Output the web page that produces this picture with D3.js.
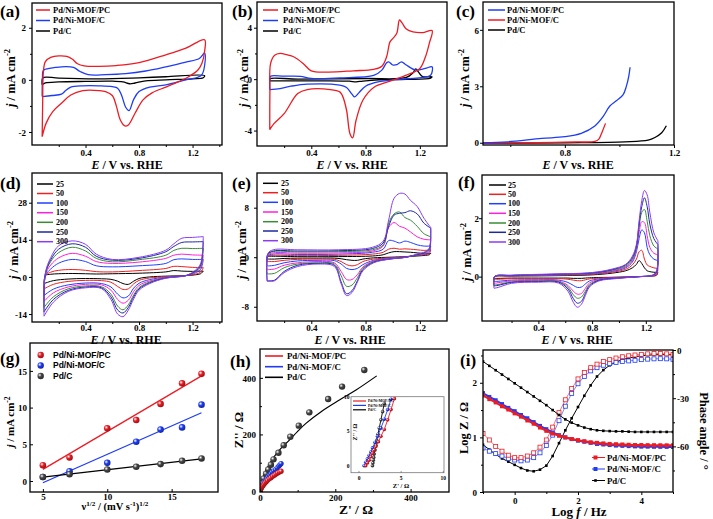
<!DOCTYPE html>
<html><head><meta charset="utf-8">
<script src="https://cdn.jsdelivr.net/npm/d3@7"></script>
<style>body{margin:0;background:#fff}svg{display:block}</style>
</head><body>
<script>
// ---------------- DATA ----------------
// (a) CV in N2 (E / V, j / mA cm-2)
const a_PC = [[0.076,-2.18],[0.08,-0.8],[0.085,0.3],[0.1,0.7],[0.14,0.86],[0.2,0.92],[0.26,0.9],[0.3,0.8],[0.34,0.62],[0.39,0.54],[0.5,0.52],[0.63,0.55],[0.8,0.66],[1.0,0.96],[1.15,1.22],[1.29,1.54],[1.29,1.1],[1.27,0.64],[1.24,0.38],[1.18,0.15],[1.1,-0.06],[1.0,-0.28],[0.9,-0.49],[0.83,-0.77],[0.77,-1.28],[0.72,-1.73],[0.695,-1.77],[0.66,-1.54],[0.63,-1.0],[0.6,-0.6],[0.55,-0.45],[0.5,-0.41],[0.38,-0.41],[0.29,-0.58],[0.22,-0.9],[0.155,-1.22],[0.105,-1.67],[0.076,-2.18]];
const a_C = [[0.076,-0.64],[0.078,0.0],[0.085,0.36],[0.12,0.43],[0.18,0.48],[0.25,0.51],[0.31,0.48],[0.36,0.32],[0.42,0.2],[0.55,0.2],[0.7,0.24],[0.85,0.34],[1.0,0.5],[1.15,0.68],[1.25,0.82],[1.29,1.03],[1.29,0.55],[1.27,0.2],[1.24,0.1],[1.15,0.0],[1.0,-0.19],[0.88,-0.28],[0.8,-0.45],[0.76,-0.75],[0.725,-1.18],[0.7,-1.05],[0.67,-0.6],[0.64,-0.32],[0.6,-0.26],[0.5,-0.23],[0.38,-0.23],[0.29,-0.28],[0.25,-0.42],[0.22,-0.55],[0.15,-0.6],[0.076,-0.64]];
const a_PdC = [[0.076,-0.19],[0.078,0.05],[0.09,0.1],[0.2,0.07],[0.5,0.04],[0.8,0.08],[1.0,0.12],[1.29,0.16],[1.28,0.08],[1.2,0.04],[1.0,0.0],[0.85,-0.04],[0.77,-0.12],[0.73,-0.15],[0.68,-0.08],[0.6,-0.05],[0.4,-0.06],[0.2,-0.08],[0.1,-0.12],[0.076,-0.19]];
// (b) CV in ethanol
const b_PC = [[0.094,-3.93],[0.095,-1],[0.1,1.2],[0.13,1.85],[0.17,2.0],[0.22,1.9],[0.27,1.74],[0.34,1.22],[0.4,0.65],[0.52,0.55],[0.71,0.65],[0.86,0.76],[0.92,1.0],[0.955,1.74],[0.98,2.9],[1.0,3.15],[1.03,3.57],[1.05,4.6],[1.07,4.35],[1.1,3.9],[1.15,3.67],[1.22,3.62],[1.29,3.78],[1.27,2.8],[1.24,1.7],[1.2,0.83],[1.1,0.31],[0.98,-0.16],[0.86,-0.65],[0.78,-1.64],[0.73,-3.2],[0.705,-4.56],[0.685,-4.24],[0.66,-2.42],[0.63,-1.3],[0.61,-0.99],[0.54,-0.81],[0.37,-0.81],[0.3,-1.12],[0.2,-2.68],[0.125,-3.46],[0.094,-3.93]];
const b_C = [[0.094,-0.81],[0.095,0.0],[0.1,0.23],[0.2,0.23],[0.32,0.22],[0.4,0.05],[0.61,0.1],[0.86,0.29],[0.92,0.7],[0.955,1.28],[0.97,1.35],[1.0,1.1],[1.03,1.12],[1.065,1.35],[1.1,1.1],[1.17,0.7],[1.24,0.83],[1.29,0.96],[1.28,0.31],[1.22,0.13],[1.1,0.03],[0.9,-0.2],[0.8,-0.55],[0.75,-1.07],[0.72,-1.38],[0.7,-1.17],[0.66,-0.65],[0.61,-0.47],[0.37,-0.39],[0.25,-0.55],[0.17,-0.73],[0.094,-0.81]];
const b_PdC = [[0.094,-0.13],[0.095,0.03],[0.3,0.0],[0.8,0.05],[1.1,0.13],[1.15,0.5],[1.17,0.8],[1.19,0.55],[1.22,0.2],[1.29,0.18],[1.28,0.08],[1.1,-0.02],[0.9,-0.06],[0.78,-0.15],[0.73,-0.21],[0.68,-0.16],[0.5,-0.13],[0.2,-0.13],[0.094,-0.13]];
// (c) LSV
const c_PC = [[0.5,0.0],[0.59,0.05],[0.715,0.23],[0.8,0.32],[0.86,0.5],[0.91,0.89],[0.94,1.39],[0.965,1.95],[0.99,2.24],[1.013,2.54],[1.025,2.98],[1.034,3.52],[1.039,4.01]];
const c_C = [[0.5,-0.03],[0.6,0.0],[0.7,0.0],[0.837,0.04],[0.91,0.07],[0.924,0.18],[0.937,0.59],[0.949,1.03]];
const c_PdC = [[0.5,-0.03],[0.8,0.0],[1.02,0.05],[1.105,0.14],[1.13,0.28],[1.155,0.53],[1.172,0.9]];

const scanRates = ["25","50","100","150","200","250","300"];
// (d)
const d_Efwd = [0.09,0.10,0.14,0.2,0.3,0.4,0.48,0.6,0.8,1.0,1.06,1.12,1.2,1.28];
const d_Erev = [1.28,1.26,1.22,1.15,1.0,0.88,0.8,0.76,0.72,0.68,0.64,0.59,0.52,0.4,0.27,0.16,0.09];
const d_fwd = [
 [-2.5,0.5,1.0,1.2,1.3,1.2,1.1,1.2,1.4,1.9,2.4,2.2,2.1,2.2],
 [-4.5,0.5,1.8,2.5,2.8,2.5,2.0,1.9,2.4,3.2,4.0,3.9,3.6,3.5],
 [-7,0.5,3.0,5.2,6.6,5.8,4.2,3.8,4.2,5.1,6.5,6.8,6.6,6.6],
 [-9.2,0.8,4.5,7.2,8.9,7.8,5.8,5.1,5.6,7.0,8.2,8.6,8.3,8.2],
 [-11.5,1.0,5.8,9.2,11.2,9.8,7.0,5.7,6.5,8.2,10.0,10.8,10.7,10.8],
 [-13.2,1.2,6.5,10.5,12.5,11.2,7.8,6.3,7.0,9.5,11.5,13.0,13.2,13.3],
 [-14.8,1.5,7.3,11.8,13.6,12.3,8.6,6.6,7.4,10.1,12.5,14.6,14.9,15.2]];
const d_rev = [
 [2.2,1.2,0.8,0.5,0.3,0,-0.6,-1.6,-2.8,-2.5,-1.6,-0.9,-0.7,-0.6,-0.8,-1.4,-2.5],
 [3.5,1.8,1.0,0.5,0.1,-0.4,-1.3,-2.6,-4.5,-4.7,-3.6,-2.0,-1.4,-1.3,-1.7,-2.8,-4.5],
 [6.6,2.8,1.5,0.5,-0.1,-1.0,-2.4,-4.2,-7.2,-7.9,-6.5,-3.8,-2.5,-2.3,-3.0,-4.6,-7],
 [8.2,3.5,1.8,0.5,-0.2,-1.5,-3.2,-5.5,-8.8,-9.9,-8.5,-5.0,-3.0,-2.8,-3.8,-6.0,-9.2],
 [10.8,4.0,2.0,0.5,-0.3,-1.9,-4.0,-6.8,-10.5,-12.4,-11.0,-6.5,-3.7,-3.4,-4.5,-7.5,-11.5],
 [13.3,4.5,2.2,0.5,-0.4,-2.2,-4.5,-7.5,-11.5,-13.6,-12.5,-7.5,-4.1,-3.8,-5.1,-8.5,-13.2],
 [15.2,5.0,2.5,0.5,-0.5,-2.5,-5.0,-8.3,-12.5,-15.0,-14.0,-8.5,-4.4,-4.1,-5.5,-9.5,-14.8]];
// (e)
const e_Efwd = [0.075,0.08,0.12,0.3,0.6,0.85,0.93,0.97,1.01,1.05,1.09,1.13,1.18,1.23,1.28];
const e_Erev = [1.28,1.27,1.24,1.18,1.1,0.98,0.86,0.78,0.74,0.7,0.66,0.62,0.57,0.45,0.3,0.2,0.13,0.09,0.075];
const e_fwd = [
 [-0.3,0.1,0.15,0.1,0.1,0.2,0.4,0.7,0.9,0.9,0.85,0.8,0.7,0.6,0.6],
 [-0.7,0.1,0.3,0.25,0.3,0.5,0.8,1.3,1.45,1.3,1.35,1.3,1.2,1.1,1.2],
 [-1.4,0.2,0.5,0.45,0.5,0.8,1.3,2.7,2.6,2.3,2.6,2.4,2.0,1.8,1.8],
 [-2.0,0.3,0.7,0.65,0.7,1.0,1.8,4.8,5.6,5.0,4.7,4.1,3.3,2.9,2.8],
 [-2.7,0.4,0.9,0.85,0.9,1.2,2.0,5.5,7.0,7.3,6.4,6.0,5.0,3.8,3.3],
 [-3.8,0.5,1.0,1.0,1.05,1.4,2.3,5.0,6.8,7.1,7.2,7.5,7.0,5.5,4.7],
 [-3.9,0.6,1.2,1.2,1.2,1.6,2.6,6.0,9.5,10.3,10.2,9.2,8.2,6.3,4.8]];
const e_rev = [
 [0.6,0.4,0.3,0.2,0.1,0,-0.1,-0.3,-0.5,-0.5,-0.4,-0.25,-0.15,-0.15,-0.15,-0.2,-0.3,-0.3,-0.3],
 [1.2,0.6,0.4,0.3,0.1,-0.1,-0.3,-0.7,-1.2,-1.4,-1.2,-0.7,-0.35,-0.3,-0.35,-0.5,-0.7,-0.7,-0.7],
 [1.8,0.8,0.5,0.35,0.05,-0.15,-0.5,-1.2,-1.8,-2.0,-1.8,-1.1,-0.55,-0.5,-0.6,-0.9,-1.3,-1.4,-1.4],
 [2.8,1.0,0.6,0.4,0,-0.2,-0.6,-1.6,-2.8,-3.6,-3.6,-2.3,-0.9,-0.7,-0.9,-1.3,-1.9,-2.0,-2.0],
 [3.3,1.2,0.7,0.4,0,-0.25,-0.7,-1.8,-3.3,-4.5,-4.7,-3.0,-1.1,-0.9,-1.1,-1.7,-2.6,-2.7,-2.7],
 [4.7,1.4,0.8,0.45,0,-0.3,-0.8,-2.0,-3.8,-5.4,-5.9,-4.0,-1.3,-1.0,-1.3,-2.3,-3.7,-3.8,-3.8],
 [4.8,1.5,0.9,0.5,0,-0.3,-0.9,-2.2,-4.0,-5.7,-6.2,-4.3,-1.5,-1.1,-1.5,-2.5,-3.8,-3.9,-3.9]];
// (f)
const f_Efwd = [0.07,0.075,0.2,0.5,0.8,0.95,1.05,1.1,1.13,1.15,1.17,1.19,1.21,1.23,1.26,1.29];
const f_Erev = [1.29,1.28,1.25,1.15,1.0,0.85,0.78,0.75,0.72,0.69,0.66,0.62,0.55,0.4,0.2,0.1,0.07];
const f_fwd = [
 [-0.06,0.0,0.02,0.03,0.06,0.12,0.2,0.3,0.42,0.55,0.45,0.3,0.2,0.17,0.15,0.14],
 [-0.09,0.0,0.02,0.04,0.08,0.15,0.25,0.4,0.6,0.85,0.9,0.6,0.4,0.35,0.3,0.28],
 [-0.17,0.0,0.03,0.05,0.1,0.18,0.3,0.5,0.85,1.3,1.6,1.5,1.0,0.75,0.6,0.55],
 [-0.23,0.0,0.03,0.06,0.11,0.2,0.33,0.55,0.95,1.5,1.88,1.85,1.4,1.0,0.8,0.75],
 [-0.29,0.0,0.04,0.07,0.12,0.22,0.36,0.6,1.0,1.7,2.2,2.3,1.9,1.4,1.05,0.95],
 [-0.32,0.0,0.04,0.08,0.13,0.24,0.4,0.65,1.05,1.8,2.4,2.7,2.4,1.8,1.3,1.1],
 [-0.4,0.0,0.05,0.09,0.14,0.26,0.42,0.7,1.1,1.9,2.6,2.95,2.8,2.2,1.5,1.23]];
const f_rev = [
 [0.14,0.05,0.02,0.0,-0.02,-0.03,-0.04,-0.05,-0.06,-0.06,-0.06,-0.05,-0.05,-0.05,-0.05,-0.06,-0.06],
 [0.28,0.05,0.02,0.0,-0.02,-0.05,-0.08,-0.11,-0.14,-0.14,-0.12,-0.09,-0.07,-0.07,-0.07,-0.09,-0.09],
 [0.55,0.1,0.03,0.0,-0.03,-0.08,-0.15,-0.25,-0.36,-0.37,-0.3,-0.2,-0.12,-0.11,-0.12,-0.16,-0.17],
 [0.75,0.12,0.03,0.0,-0.04,-0.1,-0.22,-0.4,-0.58,-0.6,-0.5,-0.3,-0.15,-0.13,-0.15,-0.21,-0.23],
 [0.95,0.15,0.04,0.0,-0.05,-0.12,-0.28,-0.5,-0.7,-0.74,-0.62,-0.36,-0.17,-0.15,-0.18,-0.27,-0.29],
 [1.1,0.17,0.05,0.0,-0.05,-0.13,-0.32,-0.58,-0.85,-0.91,-0.75,-0.42,-0.19,-0.17,-0.2,-0.3,-0.32],
 [1.23,0.2,0.05,0.0,-0.06,-0.15,-0.36,-0.65,-0.95,-1.05,-0.88,-0.5,-0.22,-0.19,-0.23,-0.37,-0.4]];
// (g) peak current vs sqrt(scan rate)
const g_sqrtv = [5,7.07,10,12.25,14.14,15.81,17.32];
const g_PC = [2.15,3.2,7.17,8.3,10.5,13.3,14.6];
const g_C = [0.55,1.33,2.47,5.35,7.0,7.3,10.4];
const g_PdC = [0.55,0.92,1.56,1.93,2.3,2.75,3.07];
// (h) Nyquist
const h_PC_re = [1,2.7,4.5,7,10,13,16.5,20,24.5,29,33.5,38,42.5,47,51.5,56];
const h_PC_im = [3,8,13,18,23,28,33,38,43,47,52,56,60,64,67,70];
const h_C_re = [1,2,3.5,5,8,11.5,15,18,21.5,25,28.5,32,36.5,41,45.5,50,53,56];
const h_C_im = [4,9.5,14.5,20,26,32,38,44,50,56,61.5,67,71.5,76,82,88,92.5,97];
const h_PdC_re = [2,5,10,16,22,29,36,49,63,80.5,103,131,181,218,277];
const h_PdC_im = [14,28,44,61,76,93,112,135,162,192,231,278,325,369,428];
const h_fit_re = [0,4,11.5,20,34,55,78,100,122,166,211,255,310];
const h_fit_im = [2,30,61,84,115,150,180,211,239,284,322,357,407];
// (h) inset
const hi_PC_re = [0.8,1.0,1.2,1.4,1.6,1.8,2.0,2.3,2.6,3.0,3.4,3.8,4.2];
const hi_PC_im = [0,0.4,0.8,1.3,1.8,2.3,2.8,3.5,4.3,5.3,6.7,8.2,9.8];
const hi_C_re = [0.6,0.8,1.0,1.2,1.4,1.6,1.9,2.2,2.6,3.0,3.4,3.8];
const hi_C_im = [0,0.5,1.0,1.5,2.0,2.6,3.4,4.3,5.5,6.8,8.2,9.7];
const hi_PdC_re = [1.6,1.65,1.7,1.75,1.8,1.9,2.0,2.1,2.25,2.4,2.6,2.8,3.0];
const hi_PdC_im = [0,0.4,0.8,1.2,1.7,2.3,3.0,3.7,4.6,5.5,6.7,7.9,9.1];
// (i) Bode
const i_logf = [-1,-0.8,-0.6,-0.4,-0.2,0,0.2,0.4,0.6,0.8,1,1.2,1.4,1.6,1.8,2,2.2,2.4,2.6,2.8,3,3.2,3.4,3.6,3.8,4,4.2,4.4,4.6,4.8,5];
const i_PC_logZ = [1.77,1.70,1.64,1.57,1.51,1.44,1.38,1.31,1.25,1.18,1.12,1.07,1.03,1.0,0.97,0.95,0.93,0.91,0.9,0.89,0.88,0.875,0.87,0.865,0.86,0.86,0.858,0.857,0.856,0.855,0.855];
const i_C_logZ = [1.81,1.74,1.68,1.61,1.54,1.48,1.41,1.35,1.28,1.21,1.15,1.09,1.04,1.0,0.97,0.94,0.92,0.9,0.88,0.87,0.86,0.85,0.845,0.84,0.835,0.83,0.83,0.828,0.827,0.826,0.825];
const i_PdC_logZ = [2.39,2.31,2.23,2.15,2.07,1.99,1.91,1.83,1.75,1.67,1.59,1.5,1.41,1.33,1.27,1.22,1.18,1.15,1.13,1.12,1.115,1.11,1.11,1.105,1.1,1.1,1.1,1.1,1.1,1.1,1.1];
const i_PC_phase = [-52,-56,-60,-63,-65.5,-67,-67,-66,-64,-60.5,-56,-48,-39,-31,-24,-18,-14,-11,-8.8,-7.2,-6,-5,-4.2,-3.6,-3.1,-2.7,-2.4,-2.2,-2.2,-2.4,-2.7];
const i_C_phase = [-61,-63,-64.5,-66,-67.5,-68.5,-69,-68.5,-67,-64,-59.5,-53,-44,-35,-27,-21,-16.5,-13,-11,-9.5,-8.5,-7.8,-7.2,-6.8,-6.4,-6,-5.7,-5.5,-5.4,-5.5,-5.8];
const i_PdC_phase = [-59,-62,-65,-67.5,-69.5,-71.5,-73.5,-75,-75.5,-74.5,-72,-66,-58,-50,-42.5,-35.5,-28.5,-22,-16.5,-12.5,-9.5,-7.5,-6,-5,-4.2,-3.6,-3.2,-3,-2.9,-2.9,-3];

const names = ["Pd/Ni-MOF/PC","Pd/Ni-MOF/C","Pd/C"];

// ---------------- STYLE ----------------
const SERIF='"Liberation Serif","Times New Roman",serif';
const SANS='"Liberation Sans",Arial,sans-serif';
const RED='#ec1c24', BLUE='#1e3cf5', BLK='#000';
const rateColors=['#000000','#ee2020','#2040ff','#ff20d8','#3a8c36','#1c2a9c','#8a3cf5'];

const svg=d3.select('body').append('svg').attr('width',713).attr('height',519);
svg.append('rect').attr('width',713).attr('height',519).attr('fill','#fff');
const defs=svg.append('defs');
let clipN=0;

function rich(g,x,y,rot,fs,parts,anchor,family){
  const t=g.append('text').attr('transform',`translate(${x},${y}) rotate(${rot})`)
    .attr('text-anchor',anchor||'middle').attr('font-family',family||SERIF)
    .attr('font-weight','bold').attr('font-size',fs).attr('fill','#000');
  let shift=0;
  parts.forEach(p=>{
    const s=Array.isArray(p)?p[0]:p, f=Array.isArray(p)?p[1]:'';
    const ts=t.append('tspan').text(s);
    const target=(f==='sup')?-fs*0.4:0;
    if(target!==shift){ts.attr('dy',target-shift);shift=target;}
    if(f==='sup') ts.attr('font-size',fs*0.68);
    if(f==='i') ts.attr('font-style','italic');
  });
  return t;
}

function styleAxis(sel,fs){
  sel.select('.domain').remove();
  sel.selectAll('.tick line').attr('stroke','#000').attr('stroke-width',1);
  sel.selectAll('.tick text').attr('font-family',SERIF).attr('font-weight','bold')
    .attr('font-size',fs).attr('fill','#000');
}

// L.xo: baseline offset of x tick labels below frame; L.yo: gap between y tick labels and frame
function panel(L){
  const x=d3.scaleLinear().domain(L.xd).range([L.x0,L.x1]);
  const y=d3.scaleLinear().domain(L.yd).range([L.y1,L.y0]);
  const g=svg.append('g');
  const cid='clip'+(clipN++);
  defs.append('clipPath').attr('id',cid).append('rect')
    .attr('x',L.x0).attr('y',L.y0).attr('width',L.x1-L.x0).attr('height',L.y1-L.y0);
  const plot=g.append('g').attr('clip-path',`url(#${cid})`);
  const fs=L.fs||9;
  const ts=L.tin?-3:3, tm=L.tin?-2:2;
  const xf=L.xfmt||(d=>String(d)), yf=d=>String(d);
  g.append('g').attr('transform',`translate(0,${L.y1})`)
    .call(d3.axisBottom(x).tickValues(L.xt).tickSize(ts).tickFormat(xf))
    .call(s=>styleAxis(s,fs))
    .call(s=>s.selectAll('.tick text').attr('y',L.xo).attr('dy',0));
  if(L.xm) g.append('g').attr('transform',`translate(0,${L.y1})`)
    .call(d3.axisBottom(x).tickValues(L.xm).tickSize(tm).tickFormat('')).call(s=>styleAxis(s,fs));
  g.append('g').attr('transform',`translate(${L.x0},0)`)
    .call(d3.axisLeft(y).tickValues(L.yt).tickSize(ts).tickFormat(yf))
    .call(s=>styleAxis(s,fs))
    .call(s=>s.selectAll('.tick text').attr('x',-L.yo).attr('dy','0.35em'));
  if(L.ym) g.append('g').attr('transform',`translate(${L.x0},0)`)
    .call(d3.axisLeft(y).tickValues(L.ym).tickSize(tm).tickFormat('')).call(s=>styleAxis(s,fs));
  g.append('rect').attr('x',L.x0).attr('y',L.y0).attr('width',L.x1-L.x0).attr('height',L.y1-L.y0)
    .attr('fill','none').attr('stroke','#000').attr('stroke-width',1.3);
  if(L.label) g.append('text').attr('x',L.label[0]).attr('y',L.label[1]).text(L.label[2])
    .attr('font-family',SERIF).attr('font-weight','bold').attr('font-size',17);
  return {x,y,g,plot};
}

const cvLine=(P,w,col)=>{
  const ln=d3.line().x(d=>P.x(d[0])).y(d=>P.y(d[1])).curve(d3.curveCatmullRom.alpha(0.5));
  return data=>P.plot.append('path').datum(data).attr('d',ln).attr('fill','none').attr('stroke',col).attr('stroke-width',w).attr('stroke-linejoin','round');
};

function lineLegend(g,x0,x1,tx,ys,labels,colors,fs,w){
  labels.forEach((lab,i)=>{
    g.append('line').attr('x1',x0).attr('x2',x1).attr('y1',ys[i]).attr('y2',ys[i]).attr('stroke',colors[i]).attr('stroke-width',w||1.5);
    g.append('text').attr('x',tx).attr('y',ys[i]).attr('dy','0.33em').text(lab)
      .attr('font-family',SERIF).attr('font-weight','bold').attr('font-size',fs);
  });
}

const xTitleE=(g,cx,by)=>rich(g,cx,by,0,12,[['E','i'],' / V vs. RHE']);
const yTitleJ=(g,bx,cy,fs)=>rich(g,bx,cy,-90,fs||12.5,[['j','i'],' / mA cm',['-2','sup']]);

// ---------------- (a) ----------------
{
  const P=panel({x0:32,x1:222,y0:3,y1:145,xd:[0,1.42],yd:[-2.5,2.95],xt:[0.4,0.8,1.2],xm:[0.2,0.6,1.0,1.4],yt:[-2,0,2],ym:[-1,1],xfmt:d3.format('.1f'),xo:10.5,yo:6,label:[0,17,'(a)']});
  cvLine(P,1.3,BLK)(a_PdC); cvLine(P,1.3,BLUE)(a_C); cvLine(P,1.3,RED)(a_PC);
  lineLegend(P.g,36,50,53,[10,20.5,31],names,[RED,BLUE,BLK],8.5);
  xTitleE(P.g,127,168.5); yTitleJ(P.g,15,78);
}
// ---------------- (b) ----------------
{
  const P=panel({x0:257,x1:447,y0:2,y1:146,xd:[0,1.4],yd:[-5.2,6],xt:[0.4,0.8,1.2],xm:[0.2,0.6,1.0],yt:[-4,0,4],ym:[-2,2],xfmt:d3.format('.1f'),xo:10,yo:5,label:[232,17,'(b)']});
  cvLine(P,1.3,BLK)(b_PdC); cvLine(P,1.3,BLUE)(b_C); cvLine(P,1.3,RED)(b_PC);
  lineLegend(P.g,263,278,283,[10,20.5,31],names,[RED,BLUE,BLK],8.5);
  xTitleE(P.g,352,168.5); yTitleJ(P.g,248,78);
}
// ---------------- (c) ----------------
{
  const P=panel({x0:483,x1:674,y0:2,y1:145,xd:[0.5,1.2],yd:[-0.12,7.48],xt:[0.8,1.2],xm:[0.6,1.0],yt:[0,3,6],xfmt:d3.format('.1f'),xo:10.5,yo:4,label:[456,17,'(c)']});
  cvLine(P,1.3,BLK)(c_PdC); cvLine(P,1.3,RED)(c_C); cvLine(P,1.3,BLUE)(c_PC);
  lineLegend(P.g,488,505,507,[10,20,30],names,[BLUE,RED,BLK],8.5);
  xTitleE(P.g,578,168.5); yTitleJ(P.g,469,78);
}
// ---------------- (d)(e)(f) ----------------
function ratePanel(L,Ef,Er,F,R,leg,title){
  const P=panel(L);
  F.forEach((f,i)=>{
    const pts=Ef.map((e,k)=>[e,f[k]]).concat(Er.map((e,k)=>[e,R[i][k]]));
    cvLine(P,1.0,rateColors[i])(pts);
  });
  lineLegend(P.g,leg[0],leg[1],leg[2],leg[3],scanRates,rateColors,8,1.5);
  xTitleE(P.g,title[0],title[1]); yTitleJ(P.g,title[2],title[3]);
  return P;
}
ratePanel({x0:32,x1:222,y0:173,y1:322,xd:[0,1.42],yd:[-17,39.2],xt:[0.4,0.8,1.2],xm:[0.2,0.6,1.0,1.4],yt:[-14,0,14,28],xfmt:d3.format('.1f'),xo:9,yo:5,label:[0,189,'(d)']},
  d_Efwd,d_Erev,d_fwd,d_rev,[37,53,56,[184,193.5,203,212.7,222.3,232,241.7]],[126,344,18,250]);
ratePanel({x0:257,x1:447,y0:173,y1:321,xd:[0,1.4],yd:[-10.3,13.6],xt:[0.4,0.8,1.2],xm:[0.2,0.6,1.0],yt:[-8,0,8],xfmt:d3.format('.1f'),xo:9.5,yo:8,label:[232,189,'(e)']},
  e_Efwd,e_Erev,e_fwd,e_rev,[263,278,281,[183.3,192.7,202.3,212,221.7,231,240.7]],[350,344,246,250]);
ratePanel({x0:482,x1:674,y0:175,y1:321,xd:[-0.02,1.41],yd:[-1.52,3.48],xt:[0.4,0.8,1.2],xm:[0.2,0.6,1.0],yt:[0,2],xfmt:d3.format('.1f'),xo:9.5,yo:3,label:[458,188,'(f)']},
  f_Efwd,f_Erev,f_fwd,f_rev,[489,506,508,[185,194.3,203.7,213.3,223,232.3,242]],[577,344,471,252]);

// sphere gradients
function sphere(id,col){
  const gr=defs.append('radialGradient').attr('id',id).attr('cx','35%').attr('cy','35%').attr('r','65%');
  gr.append('stop').attr('offset','0%').attr('stop-color','#fff');
  gr.append('stop').attr('offset','45%').attr('stop-color',col);
  gr.append('stop').attr('offset','100%').attr('stop-color',d3.color(col).darker(1.2));
}
sphere('sR',RED); sphere('sB',BLUE); sphere('sK','#444');

// ---------------- (g) ----------------
{
  const P=panel({x0:30,x1:218,y0:343,y1:492,xd:[4,18.6],yd:[-1.5,18.8],xt:[5,10,15],yt:[0,5,10,15],tin:true,xo:8,yo:3,label:[0,364,'(g)']});
  const sets=[[g_PC,RED,'sR'],[g_C,BLUE,'sB'],[g_PdC,BLK,'sK']];
  sets.forEach(([ys,col])=>{
    const mx=d3.mean(g_sqrtv), my=d3.mean(ys);
    const sl=d3.sum(g_sqrtv.map((v,i)=>(v-mx)*(ys[i]-my)))/d3.sum(g_sqrtv.map(v=>(v-mx)*(v-mx)));
    const ic=my-sl*mx, xs=d3.extent(g_sqrtv);
    P.plot.append('line').attr('x1',P.x(xs[0])).attr('x2',P.x(xs[1])).attr('y1',P.y(ic+sl*xs[0])).attr('y2',P.y(ic+sl*xs[1]))
      .attr('stroke',col).attr('stroke-width',1.3);
  });
  sets.forEach(([ys,col,gid])=>{
    P.plot.selectAll(null).data(ys).enter().append('circle').attr('cx',(d,i)=>P.x(g_sqrtv[i])).attr('cy',d=>P.y(d)).attr('r',3.3).attr('fill',`url(#${gid})`);
  });
  [[RED,'sR'],[BLUE,'sB'],[BLK,'sK']].forEach(([c,gid],i)=>{
    const yy=[355,365.5,376][i];
    P.g.append('circle').attr('cx',40.7).attr('cy',yy).attr('r',3.2).attr('fill',`url(#${gid})`);
    P.g.append('text').attr('x',53).attr('y',yy).attr('dy','0.35em').text(names[i]).attr('font-family',SANS).attr('font-weight','bold').attr('font-size',8.5);
  });
  rich(P.g,115,510,0,10.5,['ν',['1/2','sup'],' / (mV s',['-1','sup'],')',['1/2','sup']]);
  yTitleJ(P.g,14,422,11);
}
// ---------------- (h) ----------------
{
  const P=panel({x0:260,x1:449,y0:349,y1:492,xd:[0,502],yd:[-3.5,502],xt:[0,200,400],xm:[100,300],yt:[0,200,400],ym:[100,300],tin:true,xo:9,yo:4,label:[230,367,'(h)']});
  const ln=d3.line().x(d=>P.x(d[0])).y(d=>P.y(d[1])).curve(d3.curveCatmullRom.alpha(0.5));
  P.plot.append('path').datum(h_fit_re.map((v,i)=>[v,h_fit_im[i]])).attr('d',ln).attr('fill','none').attr('stroke','#000').attr('stroke-width',1.2);
  const dots=(re,im,gid,r)=>P.plot.selectAll(null).data(re).enter().append('circle').attr('cx',d=>P.x(d)).attr('cy',(d,i)=>P.y(im[i])).attr('r',r).attr('fill',`url(#${gid})`);
  dots(h_PdC_re,h_PdC_im,'sK',3.2); dots(h_C_re,h_C_im,'sB',2.6); dots(h_PC_re,h_PC_im,'sR',2.6);
  lineLegend(P.g,265,283,287,[356,366.7,377.3],names,[RED,BLUE,BLK],8.8,1.6);
  rich(P.g,356,514,0,13.5,["Z' / Ω"]);
  rich(P.g,243,430,-90,13,["Z'' / Ω"]);
  // inset
  const I={x:d3.scaleLinear().domain([0,10]).range([359,443.3]),y:d3.scaleLinear().domain([0,10]).range([465.7,397.3])};
  const ig=P.g.append('g');
  ig.append('rect').attr('x',351).attr('y',396.7).attr('width',93).attr('height',76).attr('fill','#fff').attr('stroke','#777').attr('stroke-width',0.8);
  const icid='clipInset'; defs.append('clipPath').attr('id',icid).append('rect').attr('x',351).attr('y',396.7).attr('width',93).attr('height',76);
  const ip=ig.append('g').attr('clip-path',`url(#${icid})`);
  const iln=d3.line().x(d=>I.x(d[0])).y(d=>I.y(d[1]));
  [[hi_PdC_re,hi_PdC_im,BLK,'sK'],[hi_C_re,hi_C_im,BLUE,'sB'],[hi_PC_re,hi_PC_im,RED,'sR']].forEach(([re,im,col,gid])=>{
    ip.append('path').datum(re.map((v,i)=>[v,im[i]])).attr('d',iln).attr('fill','none').attr('stroke',col).attr('stroke-width',0.9);
    ip.selectAll(null).data(re).enter().append('circle').attr('cx',d=>I.x(d)).attr('cy',(d,i)=>I.y(im[i])).attr('r',1.8).attr('fill',`url(#${gid})`);
  });
  [0,5,10].forEach(v=>{
    ig.append('line').attr('x1',I.x(v)).attr('x2',I.x(v)).attr('y1',472.7).attr('y2',470.9).attr('stroke','#555').attr('stroke-width',0.6);
    ig.append('text').attr('x',I.x(v)).attr('y',479.5).attr('text-anchor','middle').text(v).attr('font-family',SERIF).attr('font-weight','bold').attr('font-size',5.5);
    ig.append('text').attr('x',349.5).attr('y',I.y(v)).attr('dy','0.35em').attr('text-anchor','end').text(v).attr('font-family',SERIF).attr('font-weight','bold').attr('font-size',5.5);
  });
  rich(ig,401,487.5,0,6.5,["Z' / Ω"]);
  rich(ig,357,432,-90,6,["Z'' / Ω"]);
  [[RED,0],[BLUE,1],[BLK,2]].forEach(([c,i])=>{
    const yy=401+i*4.4;
    ig.append('line').attr('x1',353).attr('x2',366).attr('y1',yy).attr('y2',yy).attr('stroke',c).attr('stroke-width',1.2);
    ig.append('text').attr('x',368).attr('y',yy).attr('dy','0.35em').text(names[i]).attr('font-family',SERIF).attr('font-size',3.8).attr('font-weight','bold');
  });
}
// ---------------- (i) ----------------
{
  const L={x0:483,x1:673,y0:350,y1:492,xd:[-1,5],yd:[0,2.6],xt:[0,2,4],xm:[-1,1,3,5],yt:[0,1,2],ym:[0.5,1.5,2.5],xo:11.5,yo:6,label:[460,366,'(i)']};
  const P=panel(L);
  const y2=d3.scaleLinear().domain([-88.4,0]).range([L.y1,L.y0]);
  P.g.append('g').attr('transform',`translate(${L.x1},0)`)
    .call(d3.axisRight(y2).tickValues([0,-30,-60]).tickSize(3).tickFormat(d=>String(d)))
    .call(s=>styleAxis(s,9)).call(s=>s.selectAll('.tick text').attr('x',4).attr('dy','0.35em'));
  P.g.append('g').attr('transform',`translate(${L.x1},0)`)
    .call(d3.axisRight(y2).tickValues([-15,-45,-75]).tickSize(2).tickFormat('')).call(s=>styleAxis(s,9));
  const lz=(ys,sc)=>d3.line().x((d,i)=>P.x(i_logf[i])).y(d=>sc(d))(ys);
  // phase (open squares)
  [[i_PdC_phase,BLK,2.6,true],[i_C_phase,BLUE,4,false],[i_PC_phase,RED,4,false]].forEach(([ys,col,s,fill])=>{
    P.plot.append('path').attr('d',lz(ys,y2)).attr('fill','none').attr('stroke',col).attr('stroke-width',fill?1:0.6);
    P.plot.selectAll(null).data(ys).enter().append('rect').attr('x',(d,i)=>P.x(i_logf[i])-s/2).attr('y',d=>y2(d)-s/2)
      .attr('width',s).attr('height',s).attr('fill',fill?col:'#fff').attr('stroke',col).attr('stroke-width',fill?0:0.8);
  });
  // log Z (filled squares)
  [[i_PdC_logZ,BLK,2.6,1],[i_C_logZ,BLUE,4,2],[i_PC_logZ,RED,4,2]].forEach(([ys,col,s,w])=>{
    P.plot.append('path').attr('d',lz(ys,P.y)).attr('fill','none').attr('stroke',col).attr('stroke-width',w);
    P.plot.selectAll(null).data(ys).enter().append('rect').attr('x',(d,i)=>P.x(i_logf[i])-s/2).attr('y',d=>P.y(d)-s/2)
      .attr('width',s).attr('height',s).attr('fill',col);
  });
  [[RED,4],[BLUE,4],[BLK,2.6]].forEach(([c,s],i)=>{
    const yy=[457.5,469,480.5][i];
    P.g.append('line').attr('x1',592).attr('x2',605).attr('y1',yy).attr('y2',yy).attr('stroke',c).attr('stroke-width',1);
    P.g.append('rect').attr('x',595.5-s/2).attr('y',yy-s/2).attr('width',s).attr('height',s).attr('fill',c);
    P.g.append('text').attr('x',607).attr('y',yy).attr('dy','0.35em').text(names[i]).attr('font-family',SERIF).attr('font-weight','bold').attr('font-size',8.8);
  });
  rich(P.g,579,516,0,13,['Log ',['f','i'],' / Hz']);
  rich(P.g,468,428,-90,12.5,['Log Z / Ω']);
  rich(P.g,700,431,90,12.5,['Phase angle / °']);
}
</script>
</body></html>
